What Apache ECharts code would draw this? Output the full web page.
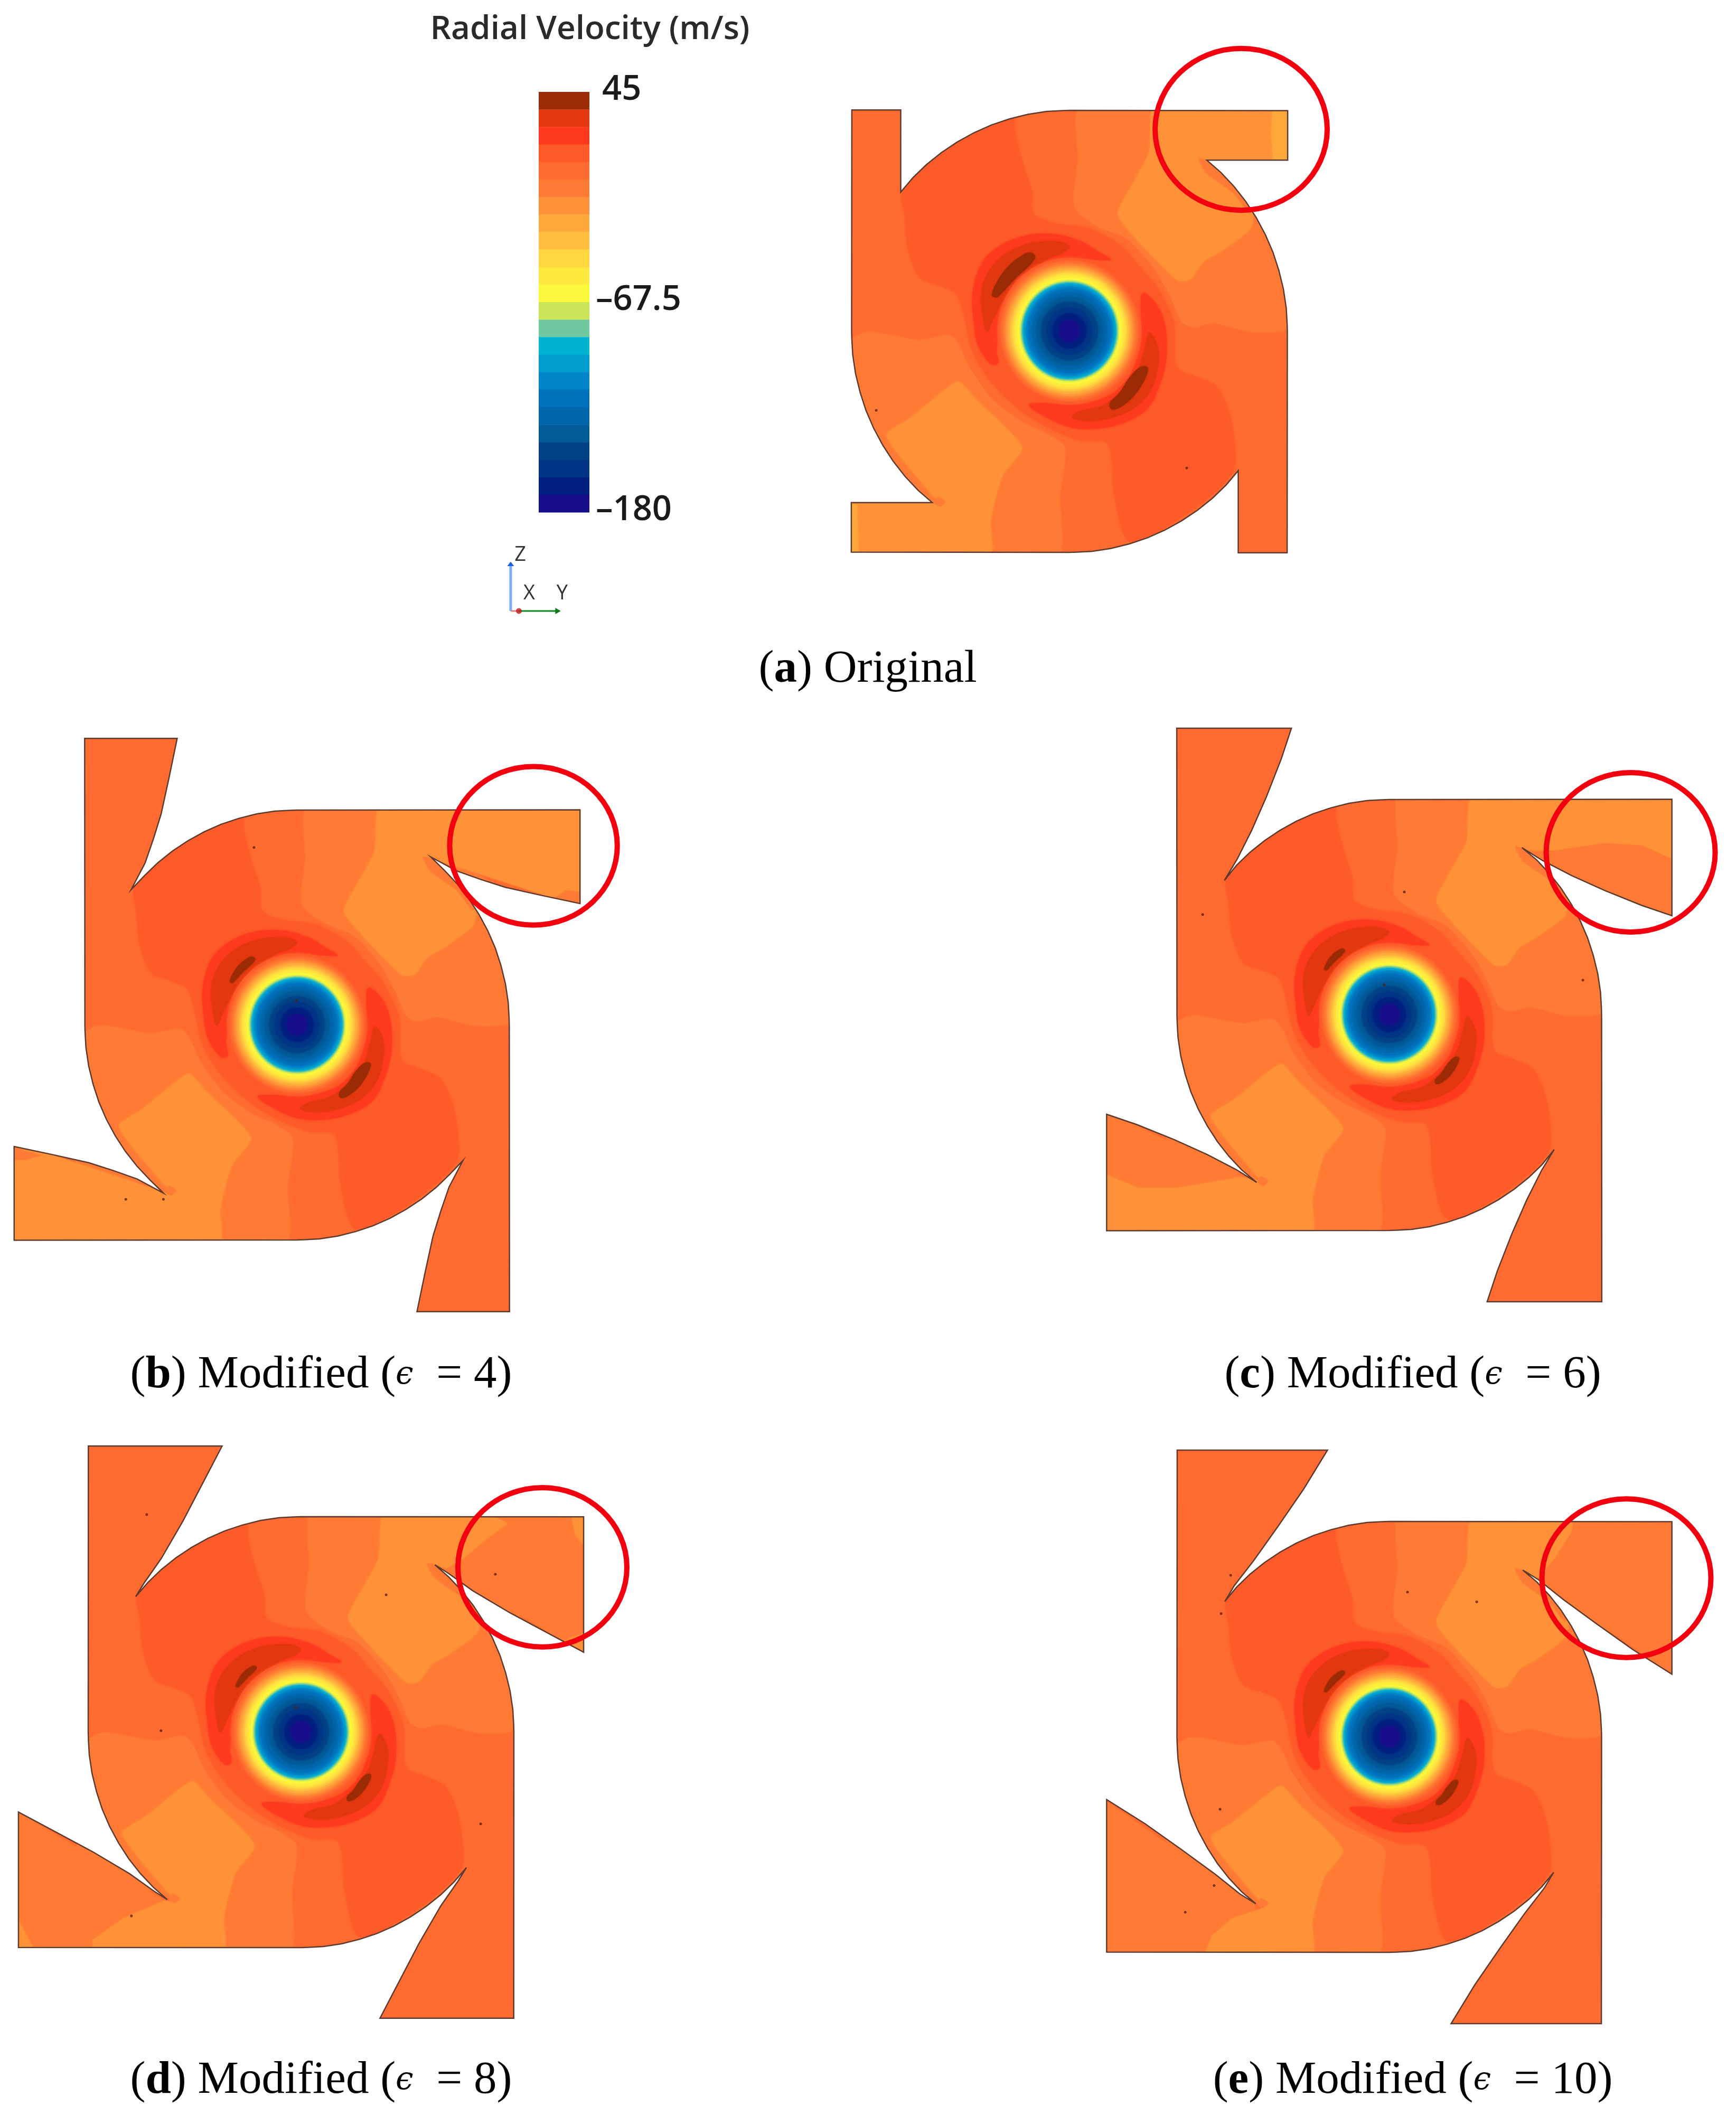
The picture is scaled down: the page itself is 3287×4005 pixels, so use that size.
<!DOCTYPE html>
<html><head><meta charset="utf-8">
<style>html,body{margin:0;padding:0;background:#fff}#c{width:3287px;height:4005px}</style>
<script src="https://cdn.jsdelivr.net/npm/echarts@6/dist/echarts.min.js"></script>
</head><body><div id="c"></div>
<script>
// colour bar: 24 bands from +45 (top) to -180 (bottom) m/s
const barMin = -180, barMax = 45;
const barTicks = [45, -67.5, -180];
const bandColors = ['#9b2b05','#e3380f','#ff3a1e','#ff5a2a','#ff6b30','#ff7b35','#ff9238','#ffa83c','#ffbf40','#ffd840','#ffe93e','#fbf93c','#c9e65a','#70c8a0','#00b3d3','#009fcd','#0085c9','#0072bd','#0066aa','#005a98','#004285','#003585','#00207f','#180e8b'];

// field contours digitised on panel (a), [x, y] in digitiser units
const fieldL1A = [[775,80],[770,250],[760,400],[830,460],[920,500],[1000,590],[1050,680],[1085,760],[1120,775],[1180,762],[1300,790],[1420,770],[1420,400],[1300,300],[1100,200],[1000,80]];
const fieldL1B = [[710,1490],[715,1300],[730,1150],[680,1110],[600,1070],[510,1000],[440,900],[410,830],[380,800],[290,815],[130,790],[70,830],[70,1300],[300,1300],[505,1490]];
const fieldL0A = [[1000,85],[985,230],[950,300],[890,420],[930,480],[1040,600],[1075,630],[1110,625],[1150,570],[1200,540],[1290,470],[1300,420],[1250,330],[1200,290],[1140,260],[1150,240],[1150,85]];
const fieldL0B = [[505,1490],[505,1380],[540,1240],[600,1150],[460,1000],[410,945],[380,960],[260,1060],[190,1110],[240,1190],[330,1300],[350,1325],[344,1490]];
const fieldTipA = [[1135,248],[1160,295],[1240,355],[1290,420],[1300,400],[1180,265]];
const fieldTipB = [[345,1305],[368,1320],[352,1335],[335,1325]];
const fieldL3 = [[240,340],[400,170],[570,110],[580,170],[605,270],[630,350],[635,420],[700,450],[800,465],[900,520],[960,590],[1010,650],[1060,760],[1070,900],[1130,930],[1190,960],[1230,1050],[1245,1150],[1240,1225],[1150,1320],[1000,1420],[920,1440],[880,1300],[860,1140],[780,1130],[680,1090],[590,1030],[510,950],[450,850],[420,720],[400,670],[350,645],[290,620],[255,530],[245,430]];

// hub crescents digitised close-up
const redUpper = [[970,215],[900,170],[800,110],[650,70],[500,75],[350,130],[240,230],[185,400],[190,560],[215,700],[290,810],[330,800],[320,720],[340,620],[350,530],[400,430],[470,340],[560,260],[650,220],[760,205],[880,215]];
const darkUpper = [[735,140],[690,115],[600,110],[480,130],[360,190],[270,290],[235,400],[240,520],[265,625],[300,560],[350,460],[430,360],[530,270],[620,205],[690,180]];
const brownUpper = [[540,195],[510,175],[460,195],[390,250],[330,330],[295,415],[320,430],[350,405],[430,320],[520,235]];
const redLower = [[1150,405],[1230,470],[1280,600],[1285,780],[1250,920],[1180,1060],[1050,1140],[900,1175],[750,1170],[620,1120],[505,1040],[600,1030],[750,1040],[900,1010],[1000,960],[1090,850],[1130,700],[1140,530]];
const darkLower = [[1190,630],[1235,700],[1240,800],[1200,950],[1100,1060],[950,1120],[820,1130],[750,1110],[800,1075],[930,1040],[1040,950],[1120,850],[1160,730]];
const brownLower = [[1180,830],[1140,825],[1080,880],[1020,970],[965,1030],[975,1065],[1020,1055],[1100,990],[1160,900]];

// concentric hub rings: band index and radius (outer first)
const hubBands = [3,4,5,6,7,8,9,10,11,12,13,14,15,16,17,18,19,20,21,22,23];
const hubRadii = [.330,.316,.304,.294,.284,.272,.262,.252,.238,.224,.219,.214,.208,.200,.190,.174,.153,.130,.105,.078,.048];

// volute arc, one quadrant (unit radius)
const arcPts = [[.695,-.719],[.755,-.656],[.809,-.588],[.857,-.515],[.899,-.438],[.934,-.358],[.961,-.276],[.982,-.191],[.995,-.105],[.999,-.035]];

// panel (a)
const edgeA = [[1405,98],[1405,253],[1160,253]];
const outletsA = [
  [6,[[1140,85],[1140,262],[1420,262],[1420,85]]],
  [7,[[1360,85],[1355,170],[1362,262],[1420,262],[1420,85]]],
  [6,[[70,1322],[360,1322],[360,1490],[70,1490]]],
  [7,[[80,1325],[80,1485],[105,1485],[100,1330]]]
];
const specksA = [[-.887,.357],[.538,.618]];
const ringA = [.788,-.914,.395,.366];
// panel (b)
const edgeB = [[1435,202],[1435,421],[1340,402],[1250,383],[1190,365],[1130,345],[1065,312]];
const outletsB = [
  [6,[[1050,195],[1050,310],[1440,430],[1440,195]]],
  [5,[[1370,410],[1400,390],[1440,395],[1440,430]]],
  [6,[[20,975],[20,1215],[450,1215],[450,1110]]],
  [5,[[25,985],[60,1000],[100,1010],[60,1020],[25,1020]]]
];
const specksB = [[-.807,.811],[-.63,.811],[-.203,-.826],[-.004,-.113]];
const ringB = [1.114,-.834,.395,.369];
// panel (c)
const edgeC = [[1413,202],[1413,474],[1340,450],[1250,415],[1170,380],[1100,345],[1050,315]];
const outletsC = [
  [6,[[1040,195],[1040,320],[1130,322],[1250,305],[1340,310],[1420,345],[1420,195]]],
  [5,[[1110,328],[1130,322],[1250,305],[1340,310],[1420,345],[1420,480],[1300,440],[1110,345]]],
  [5,[[30,925],[410,1100],[380,1130],[30,1130]]],
  [6,[[35,1075],[120,1110],[220,1110],[370,1085],[450,1100],[450,1215],[35,1215]]]
];
const specksC = [[-.879,-.466],[.071,-.571],[.912,-.162],[-.024,-.14]];
const ringC = [1.137,-.755,.398,.370];
// panel (d)
const edgeD = [[1420,207],[1420,515],[1340,475],[1240,425],[1150,375],[1090,335],[1058,316]];
const outletsD = [
  [5,[[1060,200],[1425,200],[1425,520],[1085,330]]],
  [6,[[1050,200],[1050,312],[1085,325],[1130,300],[1180,260],[1235,222],[1200,205]]],
  [6,[[1390,205],[1400,250],[1425,275],[1425,205]]],
  [6,[[1370,490],[1425,470],[1425,520]]],
  [5,[[38,875],[410,1085],[400,1190],[38,1190]]],
  [6,[[225,1170],[300,1120],[400,1080],[440,1085],[440,1190],[225,1190]]],
  [6,[[42,1120],[80,1185],[42,1190]]]
];
const specksD = [[-.725,-1.01],[-.658,-.007],[.4,-.637],[.913,-.733],[.844,.426],[-.797,.853],[-.025,-.115]];
const ringD = [1.134,-.765,.397,.370];
// panel (e)
const edgeE = [[1413,218],[1413,565],[1320,510],[1230,450],[1150,395],[1090,350],[1052,328]];
const outletsE = [
  [5,[[1040,215],[1420,215],[1420,570],[1100,360]]],
  [6,[[1040,215],[1040,330],[1085,350],[1130,300],[1170,240],[1175,215]]],
  [5,[[38,850],[405,1090],[400,1205],[38,1205]]],
  [6,[[285,1195],[300,1160],[350,1120],[430,1095],[445,1205],[285,1205]]]
];
const specksE = [[.086,-.672],[.412,-.627],[-.797,.336],[-.825,.69],[-.961,.814],[-.747,-.75],[-.792,-.572]];
const ringE = [1.117,-.7365,.398,.368];

const captions = ['({b|a}) Original','({b|b}) Modified ({e|\u03f5}  = 4)','({b|c}) Modified ({e|\u03f5}  = 6)','({b|d}) Modified ({e|\u03f5}  = 8)','({b|e}) Modified ({e|\u03f5}  = 10)'];

const LV = {L0:6,L1:5,L2:4,L3:3,R:2,D:1,B:0};
const panels = [
 {cx:2025,cy:627.5,hx:412.5,hy:418.5,z:[1.6,1.65,1560,150],edge:edgeA,outlets:outletsA,specks:specksA,ring:ringA,brown:[1,1],cap:[1638,1272]},
 {cx:561.5,cy:1941,hx:402.5,hy:407,z:[1.3067,1.2346,0,1370],edge:edgeB,outlets:outletsB,specks:specksB,ring:ringB,brown:[.6,.85],cap:[603,2608]},
 {cx:2630.5,cy:1922,hx:402,hy:408,z:[1.278,1.2346,2060,1350],edge:edgeC,outlets:outletsC,specks:specksC,ring:ringC,brown:[.5,.65],cap:[2670,2608]},
 {cx:570,cy:3280,hx:403,hy:408,z:[1.285,1.2015,0,2700],edge:edgeD,outlets:outletsD,specks:specksD,ring:ringD,brown:[.5,.65],cap:[603,3944]},
 {cx:2630.5,cy:3289,hx:402,hy:408,z:[1.278,1.2015,2060,2700],edge:edgeE,outlets:outletsE,specks:specksE,ring:ringE,brown:[.5,.6],cap:[2670,3944]}
];
const A = panels[0];
const fromZoom = (P,p)=>[((p[0]/P.z[0]+P.z[2])-P.cx)/P.hx, ((p[1]/P.z[1]+P.z[3])-P.cy)/P.hy];
const fromField = p=>fromZoom(A,p);
const fromHub = p=>[(1780+p[0]/3-A.cx)/A.hx,(420+p[1]/3-A.cy)/A.hy];
function shrink(pts,k){const n=pts.length,c=pts.reduce((s,p)=>[s[0]+p[0]/n,s[1]+p[1]/n],[0,0]);return pts.map(p=>[c[0]+(p[0]-c[0])*k,c[1]+(p[1]-c[1])*k]);}
function outline(P){
  const top=P.edge.map(p=>fromZoom(P,p));
  const q=[[0,-1],...top,...arcPts];
  const out=[];let cur=q;
  for(let i=0;i<4;i++){out.push(...cur);cur=cur.map(p=>[-p[1],p[0]]);}
  return out;
}
const option={animation:false,backgroundColor:'#fff',grid:[],xAxis:[],yAxis:[],series:[],title:[]};
function addGrid(box,xr,yr,inverse){
  option.grid.push({left:box[0],top:box[1],width:box[2],height:box[3],containLabel:false});
  option.xAxis.push({type:'value',min:xr[0],max:xr[1],show:false,gridIndex:option.grid.length-1});
  option.yAxis.push({type:'value',min:yr[0],max:yr[1],inverse:!!inverse,show:false,gridIndex:option.grid.length-1});
  return option.grid.length-1;
}
const rich={b:{fontFamily:'Liberation Serif',fontWeight:'bold',fontSize:87,color:'#000'},e:{fontFamily:'DejaVu Serif',fontStyle:'italic',fontSize:60,color:'#000'}};
panels.forEach((P,pi)=>{
  const g=addGrid([P.cx-1.4*P.hx,P.cy-1.4*P.hy,2.8*P.hx,2.8*P.hy],[-1.4,1.4],[-1.4,1.4],true);
  const ol=outline(P);
  const regs=[];
  const add=(lv,pts,smooth,blur)=>regs.push({lv,pts,smooth,blur});
  add(LV.L2,ol,0,0);
  add(LV.L1,fieldL1A.map(fromField),.25,4);
  add(LV.L1,fieldL1B.map(fromField),.25,4);
  add(LV.L0,fieldL0A.map(fromField),.2,4);
  add(LV.L0,fieldL0B.map(fromField),.2,4);
  P.outlets.forEach(o=>add(o[0],o[1].map(p=>fromZoom(P,p)),0,3));
  add(LV.L1,fieldTipA.map(fromField),.2,2);
  add(LV.L1,fieldTipB.map(fromField),.2,2);
  add(LV.L3,fieldL3.map(fromField),.3,4);
  add(LV.R,redUpper.map(fromHub),.35,4);
  add(LV.R,redLower.map(fromHub),.35,4);
  add(LV.D,darkUpper.map(fromHub),.35,4);
  add(LV.D,darkLower.map(fromHub),.35,4);
  add(LV.B,shrink(brownUpper.map(fromHub),P.brown[0]),.4,3);
  add(LV.B,shrink(brownLower.map(fromHub),P.brown[1]),.4,3);
  hubBands.forEach((b,i)=>regs.push({lv:b,r:hubRadii[i]}));
  option.series.push({type:'custom',coordinateSystem:'cartesian2d',xAxisIndex:g,yAxisIndex:g,silent:true,clip:false,
    data:regs.map((r,i)=>[0,0,i]),encode:{x:0,y:1},
    renderItem(params,api){
      const r=regs[params.dataIndex];
      const clipPts=ol.map(p=>api.coord(p));
      const col=bandColors[r.lv];
      if(r.r!==undefined){
        const c=api.coord([0,-.002]),e=api.coord([r.r,r.r]);
        return {type:'ellipse',shape:{cx:c[0],cy:c[1],rx:Math.abs(e[0]-c[0]),ry:Math.abs(e[1]-c[1])},style:{fill:col,shadowBlur:5,shadowColor:col}};
      }
      return {type:'polygon',shape:{points:r.pts.map(p=>api.coord(p)),smooth:r.smooth||0},style:{fill:col,shadowBlur:r.blur,shadowColor:col},
        clipPath:{type:'polygon',shape:{points:clipPts}}};
    }});
  option.series.push({type:'custom',coordinateSystem:'cartesian2d',xAxisIndex:g,yAxisIndex:g,silent:true,clip:false,
    data:[[0,0]],encode:{x:0,y:1},
    renderItem(params,api){return {type:'polygon',shape:{points:ol.map(p=>api.coord(p))},style:{fill:'none',stroke:'#5d3b2e',lineWidth:2.5}};}});
  option.series.push({type:'scatter',xAxisIndex:g,yAxisIndex:g,silent:true,symbolSize:5,itemStyle:{color:'#5a1f0c'},data:P.specks});
  option.series.push({type:'custom',coordinateSystem:'cartesian2d',xAxisIndex:g,yAxisIndex:g,silent:true,clip:false,z:5,
    data:[P.ring],encode:{x:0,y:1},
    renderItem(params,api){
      const c=api.coord([api.value(0),api.value(1)]),e=api.coord([api.value(0)+api.value(2),api.value(1)+api.value(3)]);
      return {type:'ellipse',shape:{cx:c[0],cy:c[1],rx:Math.abs(e[0]-c[0]),ry:Math.abs(e[1]-c[1])},style:{fill:'none',stroke:'#f2000f',lineWidth:10}};
    }});
  option.title.push({text:captions[pi],left:P.cap[0],top:P.cap[1]-52,textAlign:'center',
    textStyle:{fontFamily:'Liberation Serif',fontWeight:'normal',fontSize:87,color:'#000',rich:Object.assign({},rich)}});
});
// colour bar
option.grid.push({left:1020,top:174,width:96,height:796});
const gb=option.grid.length-1;
option.xAxis.push({type:'value',min:0,max:1,show:false,gridIndex:gb});
option.yAxis.push({type:'value',gridIndex:gb,min:barMin,max:barMax,interval:112.5,position:'right',
  axisLine:{show:false},axisTick:{show:false},splitLine:{show:false},
  axisLabel:{margin:12,align:'left',color:'#1a1a1a',fontFamily:'Open Sans',fontWeight:600,fontSize:65,lineHeight:64,padding:[0,0,8,0],
    formatter:v=>v===45?'{a|45}':String(v).replace('-','\u2013'),
    rich:{a:{fontFamily:'Open Sans',fontWeight:600,fontSize:65,color:'#1a1a1a',padding:[0,0,0,12]}}}});
const bandData=bandColors.map((c,i)=>[0,barMax-i*(barMax-barMin)/24,barMax-(i+1)*(barMax-barMin)/24,i]);
option.series.push({type:'custom',coordinateSystem:'cartesian2d',xAxisIndex:gb,yAxisIndex:gb,silent:true,data:bandData,encode:{y:[1,2]},
  renderItem(params,api){
    const a=api.coord([0,api.value(1)]),b=api.coord([1,api.value(2)]);
    return {type:'rect',shape:{x:a[0],y:a[1],width:b[0]-a[0],height:b[1]-a[1]+.5},style:{fill:bandColors[api.value(3)]}};
  }});
option.title.push({text:'Radial Velocity (m/s)',left:1112,top:20,textAlign:'center',textStyle:{fontFamily:'Open Sans',fontWeight:600,fontSize:62,color:'#2a2a2a'}});
// axis triad
const gt=addGrid([950,1030,130,140],[0,100],[0,100]);
const triadLines=[[13,9.3,13,72,'#7fa8ff',5],[25,9.3,80,9.3,'#0b8a24',3],[13,9.3,25,9.3,'#e08080',3]];
const triadHeads=[[[8,70],[18,70],[13,76],'#1e5fe0'],[[78,5],[78,13.5],[86,9.3],'#0b7a20']];
const triadText=[['Z',27,85],['X',40,33],['Y',88,33]];
option.series.push({type:'custom',coordinateSystem:'cartesian2d',xAxisIndex:gt,yAxisIndex:gt,silent:true,data:triadLines.map((l,i)=>[0,0,i]),encode:{x:0,y:1},
  renderItem(p,api){const l=triadLines[p.dataIndex];const a=api.coord([l[0],l[1]]),b=api.coord([l[2],l[3]]);return {type:'line',shape:{x1:a[0],y1:a[1],x2:b[0],y2:b[1]},style:{stroke:l[4],lineWidth:l[5]}};}});
option.series.push({type:'custom',coordinateSystem:'cartesian2d',xAxisIndex:gt,yAxisIndex:gt,silent:true,data:triadHeads.map((l,i)=>[0,0,i]),encode:{x:0,y:1},
  renderItem(p,api){const h=triadHeads[p.dataIndex];return {type:'polygon',shape:{points:h.slice(0,3).map(q=>api.coord(q))},style:{fill:h[3]}};}});
option.series.push({type:'scatter',xAxisIndex:gt,yAxisIndex:gt,silent:true,symbolSize:11,itemStyle:{color:'#c01818'},data:[[25,9.3]]});
option.series.push({type:'custom',coordinateSystem:'cartesian2d',xAxisIndex:gt,yAxisIndex:gt,silent:true,data:triadText.map((l,i)=>[0,0,i]),encode:{x:0,y:1},
  renderItem(p,api){const t=triadText[p.dataIndex];const a=api.coord([t[1],t[2]]);return {type:'text',style:{text:t[0],x:a[0],y:a[1],fill:'#333',font:'38px "Open Sans"',textAlign:'center',textVerticalAlign:'middle'}};}});
const chart=echarts.init(document.getElementById('c'),null,{renderer:'canvas',width:3287,height:4005});
chart.setOption(option);
</script></body></html>
